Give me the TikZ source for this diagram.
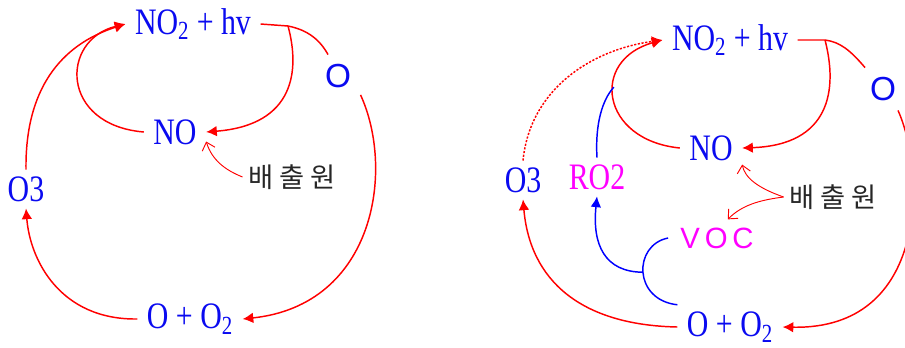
\documentclass[tikz,border=0pt]{standalone}
\usepackage{fontspec}
\setmainfont{Liberation Serif}
\newfontfamily\chemfont[FakeStretch=0.8]{Liberation Serif}
\newfontfamily\atomfont{Liberation Sans}
\newfontfamily\krfont{Noto Sans CJK KR}
\usetikzlibrary{arrows.meta}

\definecolor{chemblue}{RGB}{10,10,240}
\definecolor{cyclered}{RGB}{255,0,0}
\definecolor{vocpink}{RGB}{255,0,255}

\begin{document}
\begin{tikzpicture}[x=0.75pt,y=-0.75pt,
    chem/.style={text=chemblue,font=\chemfont\fontsize{28}{28}\selectfont,
        inner xsep=7pt,inner ysep=5pt},
    atom/.style={text=chemblue,font=\atomfont\fontsize{25}{25}\selectfont,inner sep=7pt},
    pink/.style={text=vocpink,font=\chemfont\fontsize{28}{28}\selectfont,
        inner xsep=7pt,inner ysep=5pt},
    vocbox/.style={text=vocpink,font=\atomfont\fontsize{22}{22}\selectfont,
        inner xsep=9pt,inner ysep=6pt},
    source/.style={text=black!85,font=\krfont\fontsize{20.5}{20.5}\selectfont,inner sep=4pt},
    cycle/.style={draw=cyclered,line width=1.1pt,-{Latex[length=8pt,width=8pt]}},
    plain/.style={draw=cyclered,line width=1.1pt},
    feed/.style={draw=blue,line width=1.1pt},
    emit/.style={draw=cyclered,line width=0.7pt,-{Straight Barb[length=5.5pt,width=10pt]}}]

    \useasboundingbox (0,0) rectangle (905,347);

    % Left cycle: nodes
    \node[chem] (no2L) at (193,24) {NO\textsubscript{2} + hv};
    \node[atom] (oL) at (338,76) {O};
    \node[chem] (noL) at (175,132) {NO};
    \node[source] (srcL) at (292,177) {배 출 원};
    \node[chem] (o3L) at (26,189) {O3};
    \node[chem] (oo2L) at (190,319) {O + O\textsubscript{2}};

    % Left cycle: connectors
    \coordinate (jL) at (288,26);
    \draw[plain] (no2L.east) -- (jL) .. controls (308,30) and (320,40) .. (oL.115);
    \draw[cycle] (oL.-40) .. controls (395,170) and (375,305) .. (oo2L.east);
    \draw[cycle] (jL) .. controls (300,70) and (295,125) .. (noL.east);
    \draw[cycle] (noL.west) .. controls (60,125) and (60,40) .. (no2L.west);
    \draw[cycle] (oo2L.west) .. controls (60,320) and (30,260) .. (o3L.south);
    \draw[cycle] (o3L.north) .. controls (25,90) and (60,45) .. (no2L.west);
    \draw[emit] (srcL.west) .. controls (225,170) and (212,160) .. (noL.-17);

    % Right cycle: nodes
    \node[chem] (no2R) at (730,40) {NO\textsubscript{2} + hv};
    \node[atom] (oR) at (883,89) {O};
    \node[chem] (noR) at (711,148) {NO};
    \node[chem] (o3R) at (523,180) {O3};
    \node[pink] (ro2R) at (597,177) {RO2};
    \node[source] (srcR) at (833,197) {배 출 원};
    \node[vocbox] (vocR) at (717,238) {V\,O\,C};
    \node[chem] (oo2R) at (730,327) {O + O\textsubscript{2}};

    % Right cycle: connectors
    \coordinate (jR) at (825,40);
    \draw[plain] (no2R.east) -- (jR) .. controls (840,42) and (850,50) .. (oR.130);
    \draw[cycle] (oR.-55) .. controls (925,170) and (930,330) .. (oo2R.east);
    \draw[cycle] (jR) .. controls (838,90) and (830,145) .. (noR.east);
    \draw[cycle] (noR.west) .. controls (600,140) and (590,60) ..
        coordinate[pos=0.58] (kR) (no2R.west);
    \draw[cycle,dash pattern=on 1.6pt off 1.2pt] (o3R.north) .. controls (530,90) and (590,50) .. (no2R.west);
    \draw[cycle] (oo2R.west) .. controls (580,325) and (530,280) .. (o3R.south);

    % VOC + O + O2 -> RO2 -> NO2
    \draw[feed] (ro2R.north) .. controls (595,125) and (602,100) .. (kR);
    \draw[feed] (vocR.west) .. controls (633,245) and (633,300) ..
        coordinate[pos=0.5] (mR) (oo2R.north west);
    \draw[feed,-{Latex[length=8pt,width=8pt]}] (mR) .. controls (605,272) and (592,245) .. (ro2R.south);

    % Sources
    \draw[emit] (srcR.west) .. controls (758,188) and (745,178) .. (noR.-28);
    \draw[emit] (srcR.west) .. controls (760,200) and (742,205) .. (vocR.60);

\end{tikzpicture}
\end{document}
